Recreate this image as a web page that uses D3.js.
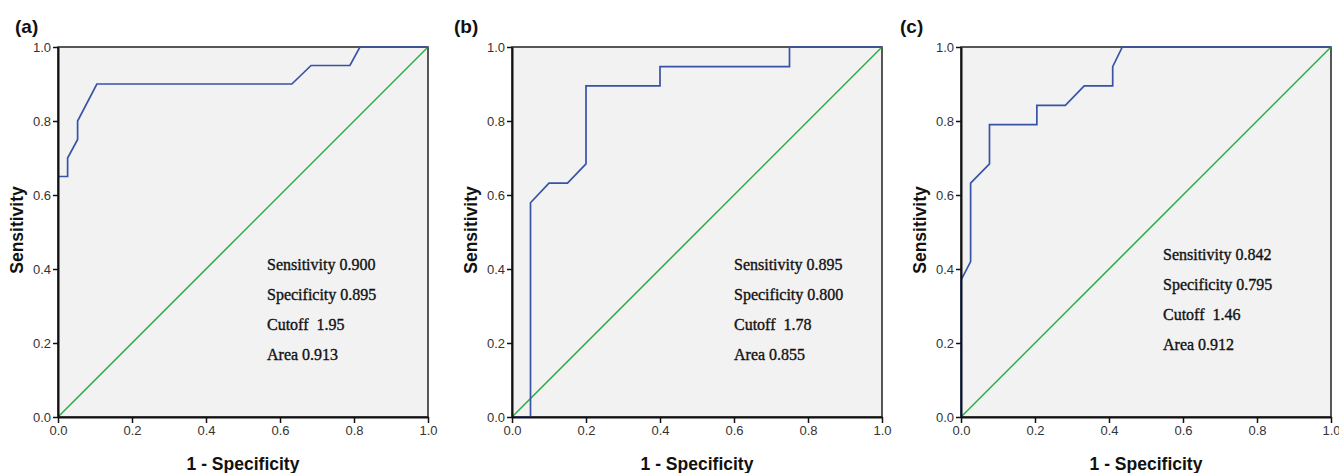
<!DOCTYPE html>
<html>
<head>
<meta charset="utf-8">
<script src="https://cdn.jsdelivr.net/npm/d3@7"></script>
<style>
  body { margin: 0; background: #fff; }
  .stats { font-family: "Liberation Serif", "Times New Roman", serif; font-size: 16px; fill: #111; stroke: #111; stroke-width: 0.35; white-space: pre; }
  .title { font-family: "Liberation Sans", Arial, sans-serif; font-weight: bold; font-size: 19px; fill: #111; }
  .axlabel { font-family: "Liberation Sans", Arial, sans-serif; font-weight: bold; font-size: 17.5px; fill: #111; }
</style>
</head>
<body>
<script>
//////////////////////////////////////////////////////////////
////////////////////////// Data //////////////////////////////
//////////////////////////////////////////////////////////////

var panelLabels = ["(a)", "(b)", "(c)"];

// 1 - specificity / sensitivity pairs
var fprA = [0, 0, 0.026, 0.026, 0.053, 0.053, 0.105, 0.632, 0.684, 0.789, 0.816, 1];
var tprA = [0, 0.65, 0.65, 0.70, 0.75, 0.80, 0.90, 0.90, 0.95, 0.95, 1.0, 1];

var fprB = [0, 0.05, 0.05, 0.10, 0.15, 0.20, 0.20, 0.40, 0.40, 0.75, 0.75, 1];
var tprB = [0, 0, 0.579, 0.632, 0.632, 0.684, 0.895, 0.895, 0.947, 0.947, 1.0, 1];

var fprC = [0, 0, 0.026, 0.026, 0.077, 0.077, 0.205, 0.205, 0.282, 0.333, 0.41, 0.41, 0.436, 1];
var tprC = [0, 0.37, 0.42, 0.632, 0.684, 0.79, 0.79, 0.842, 0.842, 0.895, 0.895, 0.947, 1.0, 1];

var statsA = ["Sensitivity 0.900", "Specificity 0.895", "Cutoff  1.95", "Area 0.913"];
var statsB = ["Sensitivity 0.895", "Specificity 0.800", "Cutoff  1.78", "Area 0.855"];
var statsC = ["Sensitivity 0.842", "Specificity 0.795", "Cutoff  1.46", "Area 0.912"];

var tickValues = [0, 0.2, 0.4, 0.6, 0.8, 1.0];

//////////////////////////////////////////////////////////////
///////////////////// General settings ///////////////////////
//////////////////////////////////////////////////////////////

var W = 1339, H = 473;
var plotW = 370, plotH = 370, plotTop = 47;

var panels = [
  {left: 58,  fpr: fprA, tpr: tprA, stats: statsA, textX: 209, textY: 223, labelX: 15},
  {left: 512, fpr: fprB, tpr: tprB, stats: statsB, textX: 222, textY: 223, labelX: 454},
  {left: 961, fpr: fprC, tpr: tprC, stats: statsC, textX: 202, textY: 213, labelX: 900}
];

var svg = d3.select("body").append("svg")
    .attr("width", W)
    .attr("height", H);

var xScale = d3.scaleLinear().domain([0, 1]).range([0, plotW]);
var yScale = d3.scaleLinear().domain([0, 1]).range([plotH, 0]);

var line = d3.line()
    .x(function(d) { return xScale(d[0]); })
    .y(function(d) { return yScale(d[1]); });

panels.forEach(function(p, i) {

  var g = svg.append("g")
      .attr("transform", "translate(" + p.left + "," + plotTop + ")");

  //Background
  g.append("rect")
      .attr("width", plotW)
      .attr("height", plotH)
      .attr("fill", "#f2f2f2")
      .attr("stroke", "#222")
      .attr("stroke-width", 1.5);

  //Diagonal reference
  g.append("path")
      .attr("d", line([[0, 0], [1, 1]]))
      .attr("fill", "none")
      .attr("stroke", "#27ad45")
      .attr("stroke-width", 1.5);

  //ROC curve
  var pts = p.fpr.map(function(f, k) { return [f, p.tpr[k]]; });
  g.append("path")
      .attr("d", line(pts))
      .attr("fill", "none")
      .attr("stroke", "#3853a6")
      .attr("stroke-width", 1.7);

  //Axes
  var xAxis = d3.axisBottom(xScale).tickValues(tickValues).tickFormat(d3.format(".1f"))
      .tickSize(6).tickPadding(3).tickSizeOuter(0);
  var yAxis = d3.axisLeft(yScale).tickValues(tickValues).tickFormat(d3.format(".1f"))
      .tickSize(5).tickPadding(2).tickSizeOuter(0);

  var gx = g.append("g").attr("transform", "translate(0," + plotH + ")").call(xAxis);
  var gy = g.append("g").call(yAxis);
  [gx, gy].forEach(function(a) {
    a.attr("font-size", 13).attr("font-family", "'Liberation Sans', Arial, sans-serif");
    a.select(".domain").attr("stroke", "#111").attr("stroke-width", 2);
    a.selectAll(".tick line").attr("stroke", "#111").attr("stroke-width", 1.5);
    a.selectAll(".tick text").attr("fill", "#333");
  });

  //Stats text
  g.selectAll(".stats")
      .data(p.stats).enter()
      .append("text")
        .attr("class", "stats")
        .attr("x", p.textX)
        .attr("y", function(d, k) { return p.textY + k * 30; })
        .text(function(d) { return d; });

  //Axis titles
  g.append("text")
      .attr("class", "axlabel")
      .attr("x", plotW / 2)
      .attr("y", plotH + 53)
      .attr("text-anchor", "middle")
      .text("1 - Specificity");

  g.append("text")
      .attr("class", "axlabel")
      .attr("transform", "rotate(-90)")
      .attr("x", -plotH / 2 + 2)
      .attr("y", -35)
      .attr("text-anchor", "middle")
      .text("Sensitivity");

  //Panel label
  svg.append("text")
      .attr("class", "title")
      .attr("x", p.labelX)
      .attr("y", 33)
      .text(panelLabels[i]);
});
</script>
</body>
</html>
